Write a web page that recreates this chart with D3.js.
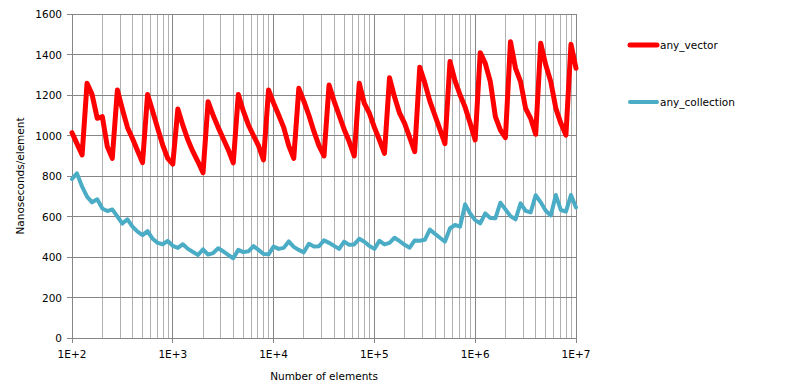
<!DOCTYPE html>
<html>
<head>
<meta charset="utf-8">
<script src="https://cdn.jsdelivr.net/npm/d3@7"></script>
<style>
body { margin:0; background:#fff; }
text { font-family:'DejaVu Sans', Verdana, sans-serif; font-size:10.5px; fill:#000; }
</style>
</head>
<body>
<svg id="viewer"></svg>
<script>
var sizes = [
  100,112,126,141,158,178,200,224,251,282,316,355,398,447,501,562,631,708,794,891,
  1000,1122,1259,1413,1585,1778,1995,2239,2512,2818,3162,3548,3981,4467,5012,5623,6310,7079,7943,8913,
  10000,11220,12589,14125,15849,17783,19953,22387,25119,28184,31623,35481,39811,44668,50119,56234,63096,70795,79433,89125,
  100000,112202,125893,141254,158489,177828,199526,223872,251189,281838,316228,354813,398107,446684,501187,562341,630957,707946,794328,891251,
  1000000,1122018,1258925,1412538,1584893,1778279,1995262,2238721,2511886,2818383,3162278,3548134,3981072,4466836,5011872,5623413,6309573,7079458,7943282,8912509,
  10000000
];

var anyVector = [
  1014,960,904,1258,1203,1085,1093,945,887,1225,1130,1040,985,925,866,1203,1120,1035,953,887,
  859,1131,1050,978,920,870,816,1167,1100,1040,985,930,865,1203,1120,1052,1000,950,880,1225,
  1160,1101,1040,950,887,1233,1170,1100,1020,950,899,1249,1170,1100,1030,970,899,1258,1159,1110,
  1040,978,912,1285,1190,1110,1060,990,920,1337,1260,1170,1100,1030,960,1365,1270,1200,1140,1060,
  978,1409,1356,1266,1093,1027,989,1463,1332,1266,1134,1085,1006,1455,1348,1266,1134,1060,1002,1450,
  1332
];

var anyCollection = [
  785,813,747,698,670,685,640,627,635,600,565,586,550,525,508,528,490,470,463,480,
  455,445,463,440,425,410,438,412,419,443,428,410,394,435,424,428,454,435,415,413,
  452,440,445,477,450,435,423,465,452,453,482,470,455,440,476,460,462,490,475,455,
  440,480,462,470,495,478,460,446,482,480,485,535,515,495,476,542,558,550,660,615,
  582,566,615,593,591,668,635,602,586,665,628,620,705,670,628,605,706,632,624,706,
  645
];

var series = [
  {name:'any_vector', values:anyVector, color:'#ff0000', width:5},
  {name:'any_collection', values:anyCollection, color:'#4bacc6', width:4}
];

var yTicks = [0,200,400,600,800,1000,1200,1400,1600];
var xMajor = [1e2,1e3,1e4,1e5,1e6,1e7];

var viewer = d3.select('#viewer')
  .attr('width',795)
  .attr('height',390);

var x = d3.scaleLog().domain([100,1e7]).range([72,576]);
var y = d3.scaleLinear().domain([0,1600]).range([338,14]);

// minor vertical grid
var minor = [];
for (var e = 2; e < 7; e++)
  for (var m = 2; m < 10; m++) minor.push(m*Math.pow(10,e));

viewer.selectAll('.minor')
  .data(minor)
  .enter().append('line')
    .attr('class','minor')
    .attr('x1',function(d){return x(d);})
    .attr('x2',function(d){return x(d);})
    .attr('y1',y(1600))
    .attr('y2',y(0))
    .style('stroke','#b0b0b0')
    .style('stroke-width',1)
    .attr('shape-rendering','crispEdges');

viewer.selectAll('.major')
  .data(xMajor)
  .enter().append('line')
    .attr('class','major')
    .attr('x1',function(d){return x(d);})
    .attr('x2',function(d){return x(d);})
    .attr('y1',y(1600))
    .attr('y2',y(0)+5)
    .style('stroke','#868686')
    .style('stroke-width',1)
    .attr('shape-rendering','crispEdges');

viewer.selectAll('.hgrid')
  .data(yTicks)
  .enter().append('line')
    .attr('class','hgrid')
    .attr('x1',x(100)-5)
    .attr('x2',x(1e7))
    .attr('y1',function(d){return y(d);})
    .attr('y2',function(d){return y(d);})
    .style('stroke','#868686')
    .style('stroke-width',1)
    .attr('shape-rendering','crispEdges');

viewer.selectAll('.ylabel')
  .data(yTicks)
  .enter().append('text')
    .attr('class','ylabel')
    .attr('x',x(100)-10)
    .attr('y',function(d){return y(d)+4;})
    .attr('text-anchor','end')
    .text(function(d){return d;});

viewer.selectAll('.xlabel')
  .data(xMajor)
  .enter().append('text')
    .attr('class','xlabel')
    .attr('x',function(d){return x(d);})
    .attr('y',358)
    .attr('text-anchor','middle')
    .text(function(d){return '1E+'+Math.round(Math.log10(d));});

viewer.append('text')
  .attr('x',324)
  .attr('y',380)
  .attr('text-anchor','middle')
  .text('Number  of elements');

viewer.append('text')
  .attr('transform','translate(24,176) rotate(-90)')
  .attr('text-anchor','middle')
  .text('Nanoseconds/element');

var line = d3.line()
  .x(function(d,i){return x(sizes[i]);})
  .y(function(d){return y(d);});

viewer.selectAll('.series')
  .data(series)
  .enter().append('path')
    .attr('class','series')
    .attr('d',function(d){return line(d.values);})
    .style('fill','none')
    .style('stroke',function(d){return d.color;})
    .style('stroke-width',function(d){return d.width;})
    .style('stroke-linejoin','round')
    .style('stroke-linecap','round');

var legend = viewer.selectAll('.legend')
  .data(series)
  .enter().append('g')
    .attr('class','legend')
    .attr('transform',function(d,i){return 'translate(630,'+(45+i*57)+')';});

legend.append('line')
  .attr('x1',0)
  .attr('x2',27)
  .style('stroke',function(d){return d.color;})
  .style('stroke-width',function(d){return d.width;})
  .style('stroke-linecap','round');

legend.append('text')
  .attr('x',30)
  .attr('y',4)
  .text(function(d){return d.name;});
</script>
</body>
</html>
